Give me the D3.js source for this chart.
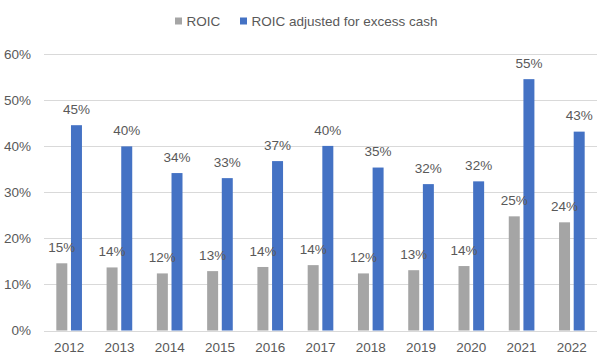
<!DOCTYPE html>
<html>
<head>
<meta charset="utf-8">
<script src="https://cdn.jsdelivr.net/npm/d3@7"></script>
<style>
  body { margin: 0; background: #fff; }
  text { font-family: "Liberation Sans", Arial, sans-serif; fill: #595959; }
</style>
</head>
<body>
<div id="chart"></div>
<script>
const years = ['2012', '2013', '2014', '2015', '2016', '2017', '2018', '2019', '2020', '2021', '2022'];
const roic = [14.6, 13.7, 12.4, 12.9, 13.8, 14.2, 12.4, 13.1, 14.0, 24.8, 23.5];
const roicAdjusted = [44.6, 40.0, 34.2, 33.1, 36.8, 40.1, 35.4, 31.8, 32.4, 54.6, 43.2];
const yTicks = [0, 10, 20, 30, 40, 50, 60];

const series = [
  { key: 'ROIC', values: roic, color: '#A5A5A5' },
  { key: 'ROIC adjusted for excess cash', values: roicAdjusted, color: '#4472C4' },
];

const width = 606;
const height = 363;
const plotLeft = 44, plotRight = 597, plotTop = 54.3, plotBottom = 330.5;

const svg = d3.select('#chart')
  .append('svg')
  .attr('width', width)
  .attr('height', height);

const x0 = d3.scaleBand()
  .domain(years)
  .range([plotLeft, plotRight])
  .paddingInner(0.49)
  .paddingOuter(0.245);

const x1 = d3.scaleBand()
  .domain(series.map((s) => s.key))
  .range([0, x0.bandwidth()])
  .paddingInner(0.25);

const y = d3.scaleLinear()
  .domain([0, 60])
  .range([plotBottom, plotTop]);

// gridlines
svg.append('g')
  .selectAll('line')
  .data(yTicks)
  .enter()
  .append('line')
  .attr('x1', plotLeft)
  .attr('x2', plotRight)
  .attr('y1', (d) => Math.round(y(d)) + 0.5)
  .attr('y2', (d) => Math.round(y(d)) + 0.5)
  .attr('stroke', '#D9D9D9')
  .attr('stroke-width', 1);

// y axis labels
const yAxis = d3.axisLeft(y)
  .tickValues(yTicks)
  .tickFormat((d) => d + '%')
  .tickSize(0)
  .tickPadding(0);
const yg = svg.append('g')
  .attr('transform', `translate(31,0)`)
  .call(yAxis);
yg.select('.domain').remove();
yg.selectAll('text')
  .attr('font-size', '13.5px')
  .attr('fill', '#595959')
  .style('font-family', '"Liberation Sans", Arial, sans-serif');

// x axis labels
const xAxis = d3.axisBottom(x0).tickSize(0).tickPadding(0);
const xg = svg.append('g')
  .attr('transform', `translate(0,${plotBottom + 12})`)
  .call(xAxis);
xg.select('.domain').remove();
xg.selectAll('text')
  .attr('font-size', '13.5px')
  .attr('fill', '#595959')
  .style('font-family', '"Liberation Sans", Arial, sans-serif');

// bars
const groups = svg.append('g')
  .selectAll('g')
  .data(years)
  .enter()
  .append('g')
  .attr('transform', (d) => `translate(${x0(d)},0)`);

groups.selectAll('rect')
  .data((d, i) => series.map((s) => ({ key: s.key, value: s.values[i], color: s.color })))
  .enter()
  .append('rect')
  .attr('x', (d) => x1(d.key))
  .attr('width', x1.bandwidth())
  .attr('y', (d) => y(d.value))
  .attr('height', (d) => y(0) - y(d.value))
  .attr('fill', (d) => d.color);

groups.selectAll('text.label')
  .data((d, i) => series.map((s) => ({ key: s.key, value: s.values[i] })))
  .enter()
  .append('text')
  .attr('class', 'label')
  .attr('x', (d) => x1(d.key) + x1.bandwidth() / 2)
  .attr('y', (d) => y(d.value) - 16)
  .attr('dy', '0.35em')
  .attr('text-anchor', 'middle')
  .attr('font-size', '13.5px')
  .text((d) => Math.round(d.value) + '%');

// legend
const legendItems = [
  { key: series[0].key, color: series[0].color, sx: 175, tx: 186.5 },
  { key: series[1].key, color: series[1].color, sx: 240, tx: 251.5 },
];
const legend = svg.append('g');
legend.selectAll('rect')
  .data(legendItems)
  .enter()
  .append('rect')
  .attr('x', (d) => d.sx)
  .attr('y', 17.5)
  .attr('width', 7)
  .attr('height', 7)
  .attr('fill', (d) => d.color);
legend.selectAll('text')
  .data(legendItems)
  .enter()
  .append('text')
  .attr('x', (d) => d.tx)
  .attr('y', 21.5)
  .attr('dy', '0.35em')
  .attr('font-size', '13.5px')
  .text((d) => d.key);
</script>
</body>
</html>
